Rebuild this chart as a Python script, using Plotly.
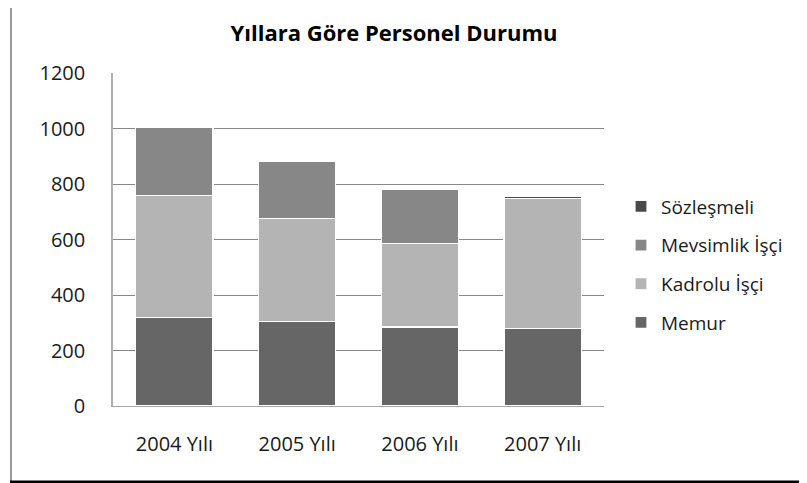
import plotly.graph_objects as go

years = ["2004 Yılı", "2005 Yılı", "2006 Yılı", "2007 Yılı"]
memur = [320, 305, 285, 280]
kadrolu = [440, 370, 300, 467]
mevsimlik = [245, 205, 195, 0]
sozlesmeli = [0, 0, 0, 10]

series = [
    ("Memur", memur, "#666666"),
    ("Kadrolu İşçi", kadrolu, "#b4b4b4"),
    ("Mevsimlik İşçi", mevsimlik, "#878787"),
    ("Sözleşmeli", sozlesmeli, "#4a4a4a"),
]

FONT = "'Open Sans', Lato, sans-serif"

fig = go.Figure()
n = len(series)
for i, (name, vals, col) in enumerate(series):
    fig.add_trace(go.Bar(
        x=years, y=vals, name=name, legendgroup=f"g{i}", legendrank=n - i,
        marker=dict(color=col, line=dict(color="white", width=1.2)),
    ))

# page offset of the plot div (body margin)
OFF = 8
W, H = 807 - OFF, 483 - OFF
# plot area in page pixels: x 113..604, y 73..406
L = 113 - OFF
T = 73 - OFF
R = W - (604 - OFF)
B = H - (406 - OFF)
pw, ph = W - L - R, H - T - B

def px_x(p):  # page pixel -> paper x
    return (p - OFF - L) / pw

def px_y(p):  # page pixel -> paper y
    return (H - B - (p - OFF)) / ph

fig.update_layout(
    width=W, height=H,
    margin=dict(l=L, r=R, t=T, b=B, autoexpand=False),
    barmode="stack", bargap=0.37,
    paper_bgcolor="white", plot_bgcolor="white",
    font=dict(family=FONT, size=20, color="#1a1a1a"),
    title=dict(text="<b>Yıllara Göre Personel Durumu</b>", x=(394 - OFF) / W, xref="container",
               xanchor="center", y=1 - (33 - OFF) / H, yref="container", yanchor="middle",
               font=dict(family=FONT, size=22, color="#000000")),
    legend=dict(x=px_x(621), xanchor="left", y=px_y(264.5), yanchor="middle",
                traceorder="grouped", tracegroupgap=11,
                font=dict(family=FONT, size=19, color="#1a1a1a"),
                itemwidth=30, bgcolor="rgba(0,0,0,0)"),
    xaxis=dict(showgrid=False, showline=True, linecolor="#a6a6a6", linewidth=1,
               ticks="", ticklabelstandoff=20, tickfont=dict(size=20)),
    yaxis=dict(range=[0, 1200], dtick=200, showgrid=True, gridcolor="#888888", gridwidth=1,
               showline=True, linecolor="#b0b0b0", linewidth=1.5, zeroline=False,
               ticks="", ticklabelstandoff=22, tickfont=dict(size=20)),
    shapes=[
        dict(type="line", xref="paper", yref="paper", x0=px_x(11), x1=px_x(11),
             y0=px_y(0), y1=px_y(481), line=dict(color="#9a9a9a", width=2)),
        dict(type="line", xref="paper", yref="paper", x0=px_x(10), x1=px_x(810),
             y0=px_y(482), y1=px_y(482), line=dict(color="#000000", width=3)),
    ],
)

fig.write_html("out.html")
